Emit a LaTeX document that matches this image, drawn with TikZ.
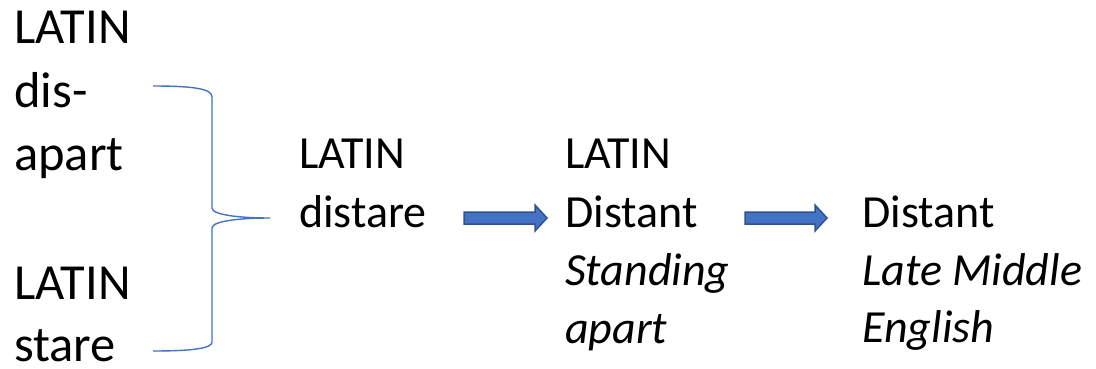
\documentclass[tikz,border=0pt]{standalone}
\usepackage{fontspec}
\setmainfont{Carlito}
\definecolor{bluea}{HTML}{4472C4}
\definecolor{blueb}{HTML}{2F528F}
\tikzset{
  big/.style={anchor=base west,inner sep=0pt,font=\fontsize{50.5}{60}\selectfont},
  mid/.style={anchor=base west,inner sep=0pt,font=\fontsize{46}{55}\selectfont},
  midit/.style={mid,font=\fontsize{46}{55}\selectfont\itshape},
  bracestyle/.style={draw=bluea,line width=1.4pt},
  blockarrow/.style={fill=bluea,draw=blueb,line width=1.5pt,line join=miter},
}
\begin{document}
\begin{tikzpicture}[x=1pt,y=-1pt]
\useasboundingbox (0,0) rectangle (1096,369);
% column 1
\node[big] (a1) at (14,44) {LATIN};
\node[big] (a2) at (14,107) {dis-};
\node[big] (a3) at (14,170) {apart};
\node[big] (a4) at (14,299) {LATIN};
\node[big] (a5) at (14,361) {stare};
% column 2
\node[mid] (b1) at (299,168) {LATIN};
\node[mid] (b2) at (299,227) {distare};
% column 3
\node[mid] (c1) at (565,168) {LATIN};
\node[mid] (c2) at (565,227) {Distant};
\node[midit] (c3) at (565,285) {Standing};
\node[midit] (c4) at (565,343) {apart};
% column 4
\node[mid] (d1) at (862,227) {Distant};
\node[midit] (d2) at (862,285) {Late Middle};
\node[midit] (d3) at (862,342) {English};
% brace
\coordinate (bt) at (153,86);
\coordinate (bb) at (153,351);
\coordinate (tip) at (270,218);
\draw[bracestyle] (bt) .. controls (195,86) and (212,89) .. (212,97)
  -- (212,208) .. controls (212,215) and (240,218) .. (tip)
  .. controls (240,218) and (212,221) .. (212,228)
  -- (212,342) .. controls (212,348) and (195,351) .. (bb);
% block arrows
\coordinate (r1) at (464,218);
\coordinate (r2) at (745,218);
\foreach \p/\len in {r1/71,r2/70} {
  \draw[blockarrow] ([yshift=6pt]\p) -- ++(\len,0) -- ++(0,-7) -- ++(12,13)
    -- ++(-12,13) -- ++(0,-7) -- ++(-\len,0) -- cycle;
}
\end{tikzpicture}
\end{document}
